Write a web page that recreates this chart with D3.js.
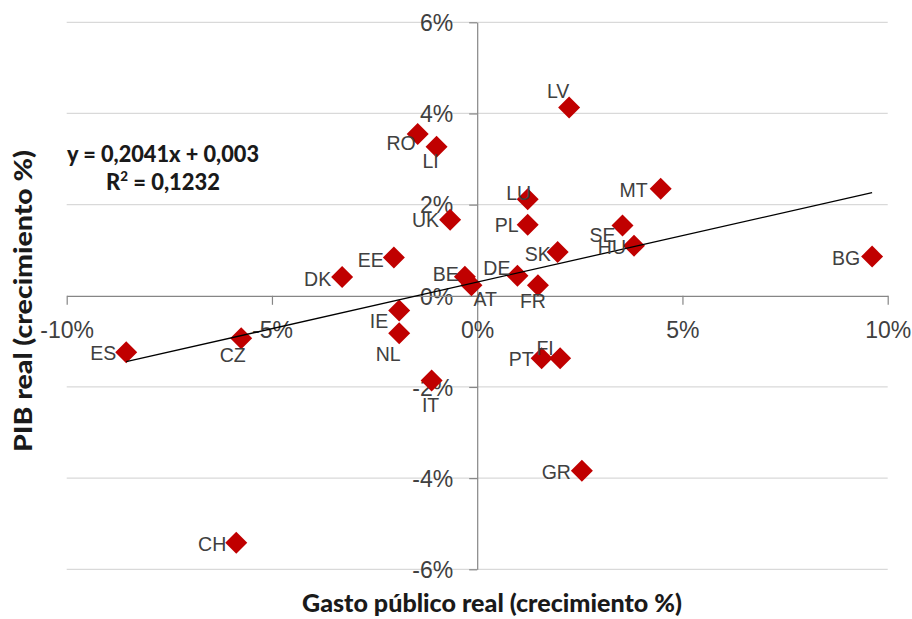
<!DOCTYPE html>
<html>
<head>
<meta charset="utf-8">
<script src="https://cdn.jsdelivr.net/npm/d3@7"></script>
<style>
  html, body { margin: 0; padding: 0; background: #ffffff; }
  svg { display: block; }
</style>
</head>
<body>
<svg id="chart" width="912" height="619"></svg>
<script>
// ---- Data ----
const countries = ["LV","MT","LU","PL","SE","HU","SK","BG","DE","FR","BE","AT","UK","RO","LI","EE","DK","IE","NL","IT","CZ","ES","CH","PT","FI","GR"];
const gastoReal = [2.24, 4.47, 1.23, 1.23, 3.54, 3.82, 1.96, 9.62, 0.98, 1.48, -0.30, -0.14, -0.66, -1.45, -0.99, -2.03, -3.29, -1.90, -1.90, -1.11, -5.75, -8.55, -5.87, 1.57, 2.02, 2.55];
const pibReal   = [4.13, 2.35, 2.12, 1.56, 1.54, 1.10, 0.96, 0.86, 0.44, 0.23, 0.42, 0.23, 1.67, 3.55, 3.27, 0.84, 0.41, -0.32, -0.82, -1.86, -0.93, -1.24, -5.42, -1.37, -1.37, -3.84];
const xTickValues = [-10, -5, 0, 5, 10];
const yTickValues = [-6, -4, -2, 0, 2, 4, 6];
const trendSlope = 0.2041;
const trendIntercept = 0.3; // 0,003 expressed in percent
const equationText = "y = 0,2041x + 0,003";
const r2Value = "0,1232";
const xTitle = "Gasto público real (crecimiento %)";
const yTitle = "PIB real (crecimiento %)";

// ---- Label placement (layout only) ----
const labelLayout = {
  LV:{a:"middle",dx:-11,dc:-17}, MT:{a:"end",dx:-13,dc:1.5}, LU:{a:"middle",dx:-9,dc:-6},
  PL:{a:"end",dx:-9,dc:0.5}, SE:{a:"end",dx:-7,dc:9}, HU:{a:"end",dx:-8,dc:1},
  SK:{a:"end",dx:-7,dc:2}, BG:{a:"end",dx:-12,dc:1}, DE:{a:"end",dx:-7,dc:-7.5},
  FR:{a:"middle",dx:-5,dc:16}, BE:{a:"end",dx:-6,dc:-3}, AT:{a:"start",dx:2,dc:14},
  UK:{a:"end",dx:-11,dc:0.5}, RO:{a:"end",dx:-2,dc:9}, LI:{a:"middle",dx:-6,dc:14},
  EE:{a:"end",dx:-10,dc:2}, DK:{a:"end",dx:-11,dc:2}, IE:{a:"end",dx:-11,dc:11},
  NL:{a:"middle",dx:-11,dc:21}, IT:{a:"middle",dx:-1,dc:24}, CZ:{a:"middle",dx:-8.5,dc:17},
  ES:{a:"end",dx:-10,dc:1}, CH:{a:"end",dx:-10,dc:1}, PT:{a:"end",dx:-8,dc:1},
  FI:{a:"middle",dx:-15,dc:-10}, GR:{a:"end",dx:-11,dc:1.5}
};

const svg = d3.select("#chart");
const plotLeft = 66.7, plotRight = 887.7, plotTop = 22.3, plotBottom = 569.3;
const x = d3.scaleLinear().domain([-10, 10]).range([plotLeft, plotRight]);
const y = d3.scaleLinear().domain([-6, 6]).range([plotBottom, plotTop]);

const textColor = "#404040";
const axisColor = "#868686";
const gridColor = "#d9d9d9";
const labelFont = "'Liberation Sans', Arial, sans-serif";
const titleFont = "Lato, 'Open Sans', sans-serif";
const fmt = d => (d < 0 ? "-" : "") + Math.abs(d) + "%";

// Gridlines
svg.append("g").selectAll("line")
  .data(yTickValues.filter(v => v !== 0))
  .join("line")
  .attr("x1", plotLeft).attr("x2", plotRight)
  .attr("y1", d => y(d)).attr("y2", d => y(d))
  .attr("stroke", gridColor).attr("stroke-width", 1.2);

// Axes and tick labels (drawn below markers)
const yAxis = d3.axisLeft(y).tickValues(yTickValues).tickSize(8).tickSizeOuter(0).tickPadding(16).tickFormat(fmt);
const gy = svg.append("g").attr("transform", `translate(${x(0)},0)`).call(yAxis);
const xAxis = d3.axisBottom(x).tickValues(xTickValues).tickSize(9).tickSizeOuter(0).tickPadding(17).tickFormat(fmt);
const gx = svg.append("g").attr("transform", `translate(0,${y(0)})`).call(xAxis);

[gx, gy].forEach(g => {
  g.select(".domain").attr("stroke", axisColor).attr("stroke-width", 1.2);
  g.selectAll(".tick line").attr("stroke", axisColor).attr("stroke-width", 1.2);
  g.selectAll(".tick text")
    .attr("fill", textColor)
    .style("font-family", labelFont)
    .style("font-size", "23px");
});
gy.selectAll(".tick text").attr("dy", "0.36em");

// Markers
const pts = countries.map((c, i) => ({ c, gx: gastoReal[i], py: pibReal[i] }));
const h = 11;
svg.append("g").selectAll("path")
  .data(pts)
  .join("path")
  .attr("d", d => {
    const cx = x(d.gx), cy = y(d.py);
    return `M${cx},${cy - h}L${cx + h},${cy}L${cx},${cy + h}L${cx - h},${cy}Z`;
  })
  .attr("fill", "#c00000");

// Trendline
const xmin = d3.min(gastoReal), xmax = d3.max(gastoReal);
svg.append("line")
  .attr("x1", x(xmin)).attr("y1", y(trendSlope * xmin + trendIntercept))
  .attr("x2", x(xmax)).attr("y2", y(trendSlope * xmax + trendIntercept))
  .attr("stroke", "#000").attr("stroke-width", 1.3);

// Data labels
svg.append("g").selectAll("text")
  .data(pts)
  .join("text")
  .attr("x", d => x(d.gx) + labelLayout[d.c].dx)
  .attr("y", d => y(d.py) + labelLayout[d.c].dc + 7)
  .attr("text-anchor", d => labelLayout[d.c].a)
  .attr("fill", textColor)
  .style("font-family", labelFont)
  .style("font-size", "19.5px")
  .text(d => d.c);

// Equation
svg.append("text")
  .attr("x", 67).attr("y", 162)
  .attr("textLength", 192)
  .attr("lengthAdjust", "spacingAndGlyphs")
  .attr("fill", "#1a1a1a")
  .style("font-family", titleFont).style("font-weight", "900").style("font-size", "23px")
  .text(equationText);
const r2 = svg.append("text")
  .attr("x", 106).attr("y", 190)
  .attr("textLength", 114)
  .attr("lengthAdjust", "spacingAndGlyphs")
  .attr("fill", "#1a1a1a")
  .style("font-family", titleFont).style("font-weight", "900").style("font-size", "23px");
r2.append("tspan").text("R");
r2.append("tspan").attr("dy", -9).style("font-size", "14px").text("2");
r2.append("tspan").attr("dy", 9).text(" = " + r2Value);

// Axis titles
svg.append("text")
  .attr("x", 492).attr("y", 612)
  .attr("text-anchor", "middle")
  .attr("textLength", 380)
  .attr("lengthAdjust", "spacingAndGlyphs")
  .attr("fill", "#1a1a1a")
  .style("font-family", titleFont).style("font-weight", "900").style("font-size", "24px")
  .text(xTitle);
svg.append("text")
  .attr("transform", "translate(32,301) rotate(-90)")
  .attr("text-anchor", "middle")
  .attr("textLength", 302)
  .attr("lengthAdjust", "spacingAndGlyphs")
  .attr("fill", "#1a1a1a")
  .style("font-family", titleFont).style("font-weight", "900").style("font-size", "24px")
  .text(yTitle);
</script>
</body>
</html>
